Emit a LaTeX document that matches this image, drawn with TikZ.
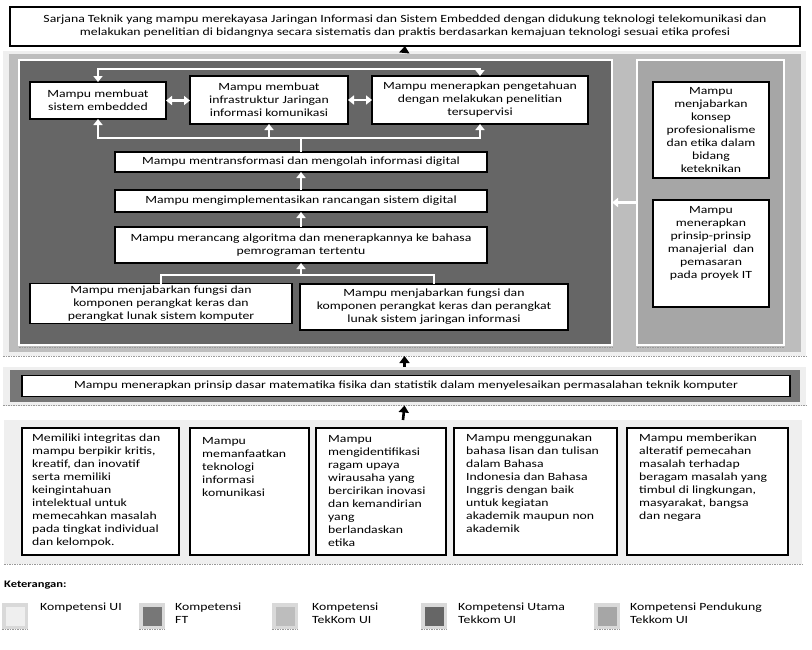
\documentclass[tikz,border=0pt]{standalone}
\usepackage{fontspec}
\setmainfont{Carlito}[FakeStretch=1.25]
\usetikzlibrary{arrows.meta}
\definecolor{kui}{HTML}{EFEFEF}
\definecolor{kft}{HTML}{777777}
\definecolor{ktk}{HTML}{BDBDBD}
\definecolor{kutama}{HTML}{666666}
\definecolor{kdukung}{HTML}{A6A6A6}
\tikzstyle{panel}=[inner sep=0pt,outer sep=0pt]
\tikzstyle{inner}=[panel,draw=white,line width=2.5pt]
\tikzstyle{box}=[draw=black,line width=1.5pt,fill=white,inner sep=2pt,align=center,outer sep=0pt]
\tikzstyle{utext}=[anchor=north west,align=left,inner sep=0pt]
\tikzstyle{barrow}=[line width=2.6pt,-{Triangle[width=10pt,length=7pt]}]
\tikzstyle{wline}=[white,line width=2.6pt]
\tikzstyle{warrow}=[wline,-{Triangle[width=9pt,length=6pt]}]
\tikzstyle{warrows}=[wline,{Triangle[width=9pt,length=6pt]}-{Triangle[width=9pt,length=6pt]}]
\tikzstyle{shade}=[gray!80,line width=0.8pt,dash pattern=on 1.5pt off 1pt]
\tikzstyle{swatch}=[panel,fill=kui!80!gray,minimum size=26pt]

\begin{document}
\begin{tikzpicture}[x=1pt,y=-1pt,font=\fontsize{11}{13}\selectfont]
\useasboundingbox (0,0) rectangle (812,649);

% lulusan
\node[box,minimum width=790,minimum height=39] (top) at (405,26.5)
  {Sarjana Teknik yang mampu merekayasa Jaringan Informasi dan Sistem Embedded dengan didukung teknologi telekomunikasi dan\\
   melakukan penelitian di bidangnya secara sistematis dan praktis berdasarkan kemajuan teknologi sesuai etika profesi};

% kompetensi tekkom ui
\node[panel,fill=kui,minimum width=803,minimum height=305] (tkbg) at (404.5,203.5) {};
\node[panel,fill=ktk,minimum width=792,minimum height=298] (tk) at (405,203) {};
\node[inner,fill=kutama,minimum width=593,minimum height=285] (utama) at (315.5,202.5) {};
\node[inner,fill=kdukung,minimum width=147,minimum height=285] (dukung) at (710.5,202.5) {};
\draw[shade] (tkbg.south west) -- (tkbg.south east);
\draw[shade] ([yshift=-2pt]utama.south west) -- ([yshift=-2pt]utama.south east);
\draw[shade] ([yshift=-2pt]dukung.south west) -- ([yshift=-2pt]dukung.south east);

% utama
\node[box,minimum width=136,minimum height=37] (emb) at (98,100.5) {Mampu membuat\\sistem embedded};
\node[box,minimum width=158,minimum height=48] (infra) at (269,100) {Mampu membuat\\infrastruktur Jaringan\\informasi komunikasi};
\node[box,minimum width=216,minimum height=48] (riset) at (480,100) {Mampu menerapkan pengetahuan\\dengan melakukan penelitian\\tersupervisi};
\node[box,minimum width=372,minimum height=20] (trans) at (301,162) {Mampu mentransformasi dan mengolah informasi digital};
\node[box,minimum width=372,minimum height=22] (impl) at (301,201) {Mampu mengimplementasikan rancangan sistem digital};
\node[box,minimum width=372,minimum height=36] (algo) at (301,245) {Mampu merancang algoritma dan menerapkannya ke bahasa\\pemrograman tertentu};
\node[box,minimum width=262,minimum height=39] (hwkom) at (161,303.5) {Mampu menjabarkan fungsi dan\\komponen perangkat keras dan\\perangkat lunak sistem komputer};
\node[box,minimum width=268,minimum height=46] (hwjar) at (434,307) {Mampu menjabarkan fungsi dan\\komponen perangkat keras dan perangkat\\lunak sistem jaringan informasi};

\coordinate (atas) at (0,69);
\coordinate (bus) at (0,138);
\coordinate (bus2) at (0,275);
\draw[warrows] (emb.north) |- (riset.north |- atas) -- (riset.north);
\draw[warrows] (emb.south) |- (riset.south |- bus) -- (riset.south);
\draw[warrow] (infra.south |- bus) -- (infra.south);
\draw[wline] (trans.north) -- (trans.north |- bus);
\draw[warrows] (emb.east) -- (emb.east -| infra.west);
\draw[warrows] (infra.east) -- (riset.west);
\draw[warrow] (impl.north) -- (trans.south);
\draw[warrow] (algo.north) -- (impl.south);
\draw[wline] (hwkom.north) |- (hwjar.north |- bus2) -- (hwjar.north);
\draw[warrow] (algo.south |- bus2) -- (algo.south);

% pendukung
\node[box,minimum width=116,minimum height=96] (etika) at (711,130)
  {Mampu\\menjabarkan\\konsep\\profesionalisme\\dan etika dalam\\bidang\\keteknikan};
\node[box,minimum width=116,minimum height=107] (manaj) at (711,253.5) {};
\node[anchor=north,align=center,inner sep=0pt] (manajt) at ([yshift=-6pt]manaj.north)
  {Mampu\\menerapkan\\prinsip-prinsip\\manajerial\ \ dan\\pemasaran\\pada proyek IT};
\draw[warrow] (dukung.west) -- (utama.east);

% kompetensi ft
\node[panel,fill=kui,minimum width=803,minimum height=39] (ftbg) at (404.5,386) {};
\node[panel,fill=kft,minimum width=790,minimum height=32] (ft) at (405,386) {};
\node[box,minimum width=768,minimum height=21,inner sep=1pt] (dasar) at (406,386)
  {Mampu menerapkan prinsip dasar matematika fisika dan statistik dalam menyelesaikan permasalahan teknik komputer};
\draw[shade] (ftbg.south west) -- (ftbg.south east);

% kompetensi ui
\node[panel,fill=kui,minimum width=798,minimum height=144] (uibg) at (403,492) {};
\draw[shade] (uibg.south west) -- (uibg.south east);
\node[box,minimum width=157,minimum height=127] (b1) at (100.5,491.5) {};
\node[box,minimum width=119,minimum height=127] (b2) at (249.5,491.5) {};
\node[box,minimum width=130,minimum height=127] (b3) at (381,491.5) {};
\node[box,minimum width=163,minimum height=127] (b4) at (535.5,491.5) {};
\node[box,minimum width=161,minimum height=127] (b5) at (707.5,491.5) {};
\node[utext] (b1t) at ([xshift=10pt,yshift=-6pt]b1.north west)
  {Memiliki integritas dan\\mampu berpikir kritis,\\kreatif, dan inovatif\\serta memiliki\\keingintahuan\\intelektual untuk\\memecahkan masalah\\pada tingkat individual\\dan kelompok.};
\node[utext] (b2t) at ([xshift=12pt,yshift=-9pt]b2.north west)
  {Mampu\\memanfaatkan\\teknologi\\informasi\\komunikasi};
\node[utext] (b3t) at ([xshift=12pt,yshift=-7pt]b3.north west)
  {Mampu\\mengidentifikasi\\ragam upaya\\wirausaha yang\\bercirikan inovasi\\dan kemandirian\\yang\\berlandaskan\\etika};
\node[utext] (b4t) at ([xshift=12pt,yshift=-6pt]b4.north west)
  {Mampu menggunakan\\bahasa lisan dan tulisan\\dalam Bahasa\\Indonesia dan Bahasa\\Inggris dengan baik\\untuk kegiatan\\akademik maupun non\\akademik};
\node[utext] (b5t) at ([xshift=12pt,yshift=-6pt]b5.north west)
  {Mampu memberikan\\alteratif pemecahan\\masalah terhadap\\beragam masalah yang\\timbul di lingkungan,\\masyarakat, bangsa\\dan negara};

% arah
\draw[barrow] (tkbg.north) -- (top.south);
\draw[barrow] (ftbg.north) -- (tkbg.south);
\draw[barrow] (uibg.north) -- (ftbg.south);

% keterangan
\node[anchor=west,inner sep=0pt,font=\bfseries\fontsize{10}{12}\selectfont] (ket) at (4,585) {Keterangan:};
\node[swatch] (s1) at (15,616) {};
\node[panel,fill=kui,minimum size=19pt] (s1i) at (s1) {};
\node[swatch] (s2) at (152,616) {};
\node[panel,fill=kft,minimum size=19pt] (s2i) at (s2) {};
\node[swatch] (s3) at (285,616) {};
\node[panel,fill=ktk,minimum size=19pt] (s3i) at (s3) {};
\node[swatch] (s4) at (434,616) {};
\node[panel,fill=kutama,minimum size=19pt] (s4i) at (s4) {};
\node[swatch] (s5) at (607,616) {};
\node[panel,fill=kdukung,minimum size=19pt] (s5i) at (s5) {};
\draw[shade] (s1.south west) -- (s1.south east);
\draw[shade] (s2.south west) -- (s2.south east);
\draw[shade] (s3.south west) -- (s3.south east);
\draw[shade] (s4.south west) -- (s4.south east);
\draw[shade] (s5.south west) -- (s5.south east);
\node[utext] (l1) at (40,603) {Kompetensi UI};
\node[utext] (l2) at (175,603) {Kompetensi\\FT};
\node[utext] (l3) at (312,603) {Kompetensi\\TekKom UI};
\node[utext] (l4) at (458,603) {Kompetensi Utama\\Tekkom UI};
\node[utext] (l5) at (630,603) {Kompetensi Pendukung\\Tekkom UI};
\end{tikzpicture}
\end{document}
